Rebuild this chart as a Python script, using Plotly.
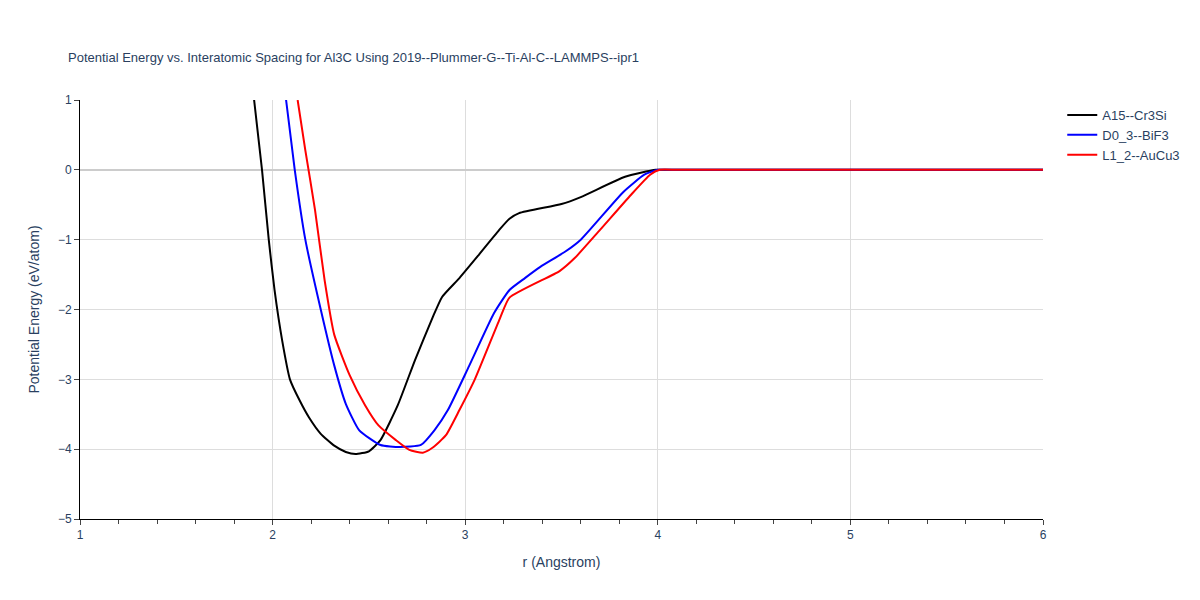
import plotly.graph_objects as go

r_a15 = [1.904, 1.945, 1.98, 2.01, 2.05, 2.09, 2.14, 2.19, 2.25, 2.32, 2.38, 2.43, 2.5, 2.56, 2.65, 2.74, 2.83, 2.88,
         2.97, 3.07, 3.18, 3.23, 3.28, 3.5, 3.6, 3.83, 3.99, 4.1, 5.0, 6.0]
e_a15 = [1.0, 0.0, -1.0, -1.72, -2.45, -3.0, -3.3, -3.55, -3.78, -3.95, -4.04, -4.07, -4.03, -3.87, -3.37, -2.72, -2.12, -1.82,
         -1.55, -1.22, -0.85, -0.7, -0.62, -0.49, -0.39, -0.1, 0.0, 0.0, 0.0, 0.0]

r_d03 = [2.07, 2.115, 2.17, 2.25, 2.32, 2.38, 2.45, 2.56, 2.66, 2.77, 2.84, 2.91, 3.02, 3.15, 3.23,
         3.31, 3.39, 3.52, 3.6, 3.82, 3.93, 4.0, 4.1, 5.0, 6.0]
e_d03 = [1.0, 0.0, -1.0, -2.0, -2.8, -3.35, -3.73, -3.94, -3.97, -3.94, -3.73, -3.44, -2.81, -2.05, -1.72,
         -1.55, -1.39, -1.17, -1.0, -0.32, -0.07, 0.0, 0.0, 0.0, 0.0]

r_l12 = [2.13, 2.17, 2.22, 2.27, 2.32, 2.4, 2.48, 2.55, 2.64, 2.71, 2.78, 2.83, 2.9, 2.97, 3.05,
         3.18, 3.23, 3.49, 3.57, 3.7, 3.86, 3.96, 4.01, 4.1, 5.0, 6.0]
e_l12 = [1.0, 0.28, -0.57, -1.58, -2.36, -2.94, -3.37, -3.66, -3.87, -4.01, -4.05, -3.98, -3.8, -3.44, -3.0,
         -2.13, -1.83, -1.45, -1.26, -0.86, -0.36, -0.07, 0.0, 0.0, 0.0, 0.0]

fig = go.Figure()
fig.add_trace(go.Scatter(x=r_a15, y=e_a15, mode='lines', name='A15--Cr3Si', line=dict(color='black', width=2, shape='spline', smoothing=0.5)))
fig.add_trace(go.Scatter(x=r_d03, y=e_d03, mode='lines', name='D0_3--BiF3', line=dict(color='blue', width=2, shape='spline', smoothing=0.5)))
fig.add_trace(go.Scatter(x=r_l12, y=e_l12, mode='lines', name='L1_2--AuCu3', line=dict(color='red', width=2, shape='spline', smoothing=0.5)))

fig.update_layout(
    width=1200, height=600,
    template='plotly_white',
    font=dict(family='Arial, Liberation Sans'),
    title=dict(text='Potential Energy vs. Interatomic Spacing for Al3C Using 2019--Plummer-G--Ti-Al-C--LAMMPS--ipr1',
               font=dict(size=13), x=0.05, y=0.925),
    margin=dict(l=72, r=165, t=92, b=89),
    legend=dict(x=1.02, y=1, font=dict(size=13)),
    xaxis=dict(title='r (Angstrom)', range=[1, 6], dtick=1, showline=True, linecolor='black',
               ticks='outside', gridcolor='#ddd', zeroline=False,
               minor=dict(ticks='outside', dtick=0.2, ticklen=4)),
    yaxis=dict(title='Potential Energy (eV/atom)', range=[-5, 1], dtick=1, showline=True, linecolor='black',
               ticks='outside', gridcolor='#ddd', zerolinecolor='#ccc', zerolinewidth=2),
)

fig.write_html("out.html")
